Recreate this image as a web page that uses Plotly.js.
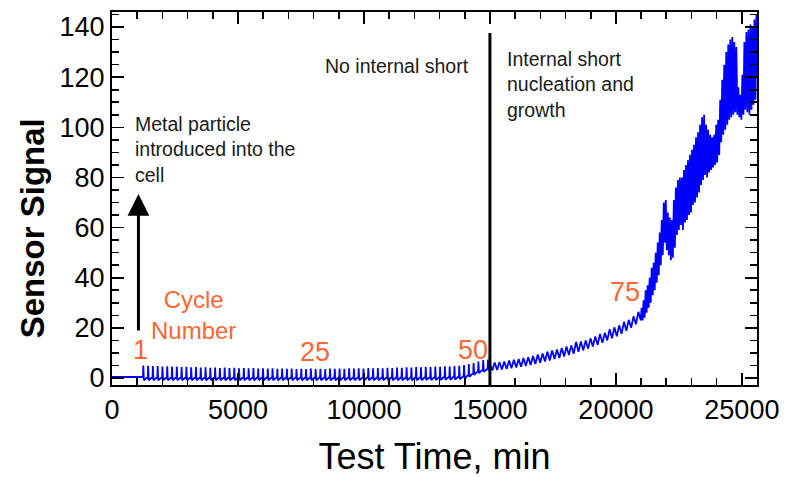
<!DOCTYPE html>
<html>
<head>
<meta charset="utf-8">
<script src="https://cdn.plot.ly/plotly-3.0.1.min.js"></script>
<style>html,body{margin:0;padding:0;background:#fff;}#chart{width:792px;height:477px;}</style>
</head>
<body>
<div id="chart"></div>
<script>
// ---- Data ----
// Before cycling: flat signal
const preTime   = [0, 400, 800, 1200];
const preSignal = [0.4, 0.4, 0.3, 0.4];

// Cycling without internal short: comb of small spikes
const cyclingTime = [
  1230,1242,1265, 1420,1432,1455, 1610,1622,1645, 1800,1812,1835, 1990,2002,2025,
  2180,2192,2215, 2370,2382,2405, 2560,2572,2595, 2750,2762,2785, 2940,2952,2975,
  3130,3142,3165, 3320,3332,3355, 3510,3522,3545, 3700,3712,3735, 3890,3902,3925,
  4080,4092,4115, 4270,4282,4305, 4460,4472,4495, 4650,4662,4685, 4840,4852,4875,
  5030,5042,5065, 5220,5232,5255, 5410,5422,5445, 5600,5612,5635, 5790,5802,5825,
  5980,5992,6015, 6170,6182,6205, 6360,6372,6395, 6550,6562,6585, 6740,6752,6775,
  6930,6942,6965, 7120,7132,7155, 7310,7322,7345, 7500,7512,7535, 7690,7702,7725,
  7880,7892,7915, 8070,8082,8105, 8260,8272,8295, 8450,8462,8485, 8640,8652,8675,
  8830,8842,8865, 9020,9032,9055, 9210,9222,9245, 9400,9412,9435, 9590,9602,9625,
  9780,9792,9815, 9970,9982,10005, 10160,10172,10195, 10350,10362,10385, 10540,10552,10575,
  10730,10742,10765, 10920,10932,10955, 11110,11122,11145, 11300,11312,11335, 11490,11502,11525,
  11680,11692,11715, 11870,11882,11905, 12060,12072,12095, 12250,12262,12285, 12440,12452,12475,
  12630,12642,12665, 12820,12832,12855, 13010,13022,13045, 13200,13212,13235, 13390,13402,13425,
  13580,13592,13615, 13770,13782,13805, 13960,13972,13995, 14150,14162,14185, 14340,14352,14375,
  14530,14542,14565, 14720,14732,14755, 14910,14922,14945
];
const cyclingSignal = [
  0.4,5.0,-0.9, 0.4,4.9,-0.9, 0.4,4.8,-0.9, 0.4,4.8,-0.9, 0.4,4.6,-0.9,
  0.4,4.7,-0.9, 0.4,4.5,-0.9, 0.4,4.6,-0.9, 0.4,4.4,-0.9, 0.4,4.5,-0.9,
  0.4,4.3,-0.9, 0.4,4.4,-0.9, 0.4,4.2,-0.9, 0.4,4.3,-0.9, 0.4,4.1,-0.9,
  0.4,4.2,-0.9, 0.4,4.0,-0.9, 0.4,4.2,-0.9, 0.4,4.0,-0.9, 0.4,4.1,-0.9,
  0.4,3.9,-0.9, 0.4,4.0,-0.9, 0.4,3.9,-0.9, 0.4,4.0,-0.9, 0.4,3.8,-0.9,
  0.4,3.9,-0.9, 0.4,3.8,-0.9, 0.4,3.9,-0.9, 0.4,3.7,-0.9, 0.4,3.8,-0.9,
  0.4,3.7,-0.9, 0.4,3.8,-0.9, 0.4,3.6,-0.9, 0.4,3.7,-0.9, 0.4,3.6,-0.9,
  0.4,3.8,-0.9, 0.4,3.6,-0.9, 0.4,3.7,-0.9, 0.4,3.6,-0.9, 0.4,3.8,-0.9,
  0.4,3.7,-0.9, 0.4,3.8,-0.9, 0.4,3.7,-0.9, 0.4,3.9,-0.9, 0.4,3.8,-0.9,
  0.4,3.9,-0.9, 0.4,3.8,-0.9, 0.4,4.0,-0.9, 0.4,3.9,-0.9, 0.4,4.0,-0.9,
  0.4,3.9,-0.9, 0.4,4.1,-0.9, 0.4,4.0,-0.9, 0.4,4.2,-0.9, 0.4,4.1,-0.9,
  0.4,4.3,-0.9, 0.4,4.2,-0.9, 0.4,4.4,-0.9, 0.4,4.3,-0.9, 0.5,4.5,-0.8,
  0.5,4.4,-0.8, 0.5,4.6,-0.8, 0.5,4.5,-0.8, 0.6,4.7,-0.7, 0.6,4.6,-0.7,
  0.7,4.8,-0.6, 0.7,4.9,-0.5, 0.9,5.2,-0.2, 1.3,5.6,0.4, 2.0,6.0,1.2,
  2.8,6.6,1.9, 3.4,7.2,2.5, 3.8,7.4,3.0
];

// Internal short onset: slowly rising, oscillating
const onsetTime = [
  15000,15095,15190,15285,15380,15475,15570,15665,15760,15855,
  15950,16045,16140,16235,16330,16425,16520,16615,16710,16805,
  16900,16995,17090,17185,17280,17375,17470,17565,17660,17755,
  17850,17945,18040,18135,18230,18325,18420,18515,18610,18705,
  18800,18895,18990,19085,19180,19275,19370,19465,19560,19655,
  19750,19845,19940,20035,20130,20225,20320,20415,20510,20605,
  20700,20795,20890,20985
];
const onsetSignal = [
  5.8,3.0,6.2,3.2,6.4,3.4,6.6,3.6,7.0,3.9,
  7.3,4.2,7.6,4.5,8.0,4.8,8.3,5.2,8.8,5.6,
  9.4,6.1,9.8,6.6,10.5,7.0,11.0,7.6,11.4,8.0,
  12.0,8.6,12.6,9.2,13.0,9.7,14.4,10.4,14.6,11.0,
  15.0,11.7,15.8,12.5,16.6,13.2,17.6,14.0,18.0,15.0,
  19.4,15.8,20.2,16.6,21.0,17.6,22.4,18.8,23.2,20.0,
  24.6,21.4,26.4,23.0
];

// Internal short growth: steep, noisy rise
const growthTime = [
  21020,21060,21100,21140,21180,21220,21260,21300,21340,21380,
  21420,21460,21500,21540,21580,21620,21660,21700,21740,21780,
  21820,21860,21900,21940,21980,22020,22060,22100,22140,22180,
  22220,22260,22300,22340,22380,22420,22460,22500,22540,22580,
  22620,22660,22700,22740,22780,22820,22860,22900,22940,22980,
  23020,23060,23100,23140,23180,23220,23260,23300,23340,23380,
  23420,23460,23500,23540,23580,23620,23660,23700,23740,23780,
  23820,23860,23900,23940,23980,24020,24060,24100,24140,24180,
  24220,24260,24300,24340,24380,24420,24460,24500,24540,24580,
  24620,24660,24700,24740,24780,24820,24860,24900,24940,24980,
  25020,25060,25100,25140,25180,25220,25260,25300,25340,25380,
  25420,25460,25500,25540,25580,25600
];
const growthSignal = [
  28,23,31,24,35,26,37,28,40,30,
  44,33,46,35,50,38,54,41,58,45,
  63,49,70,54,71,51,66,49,64,47,
  63,48,71,52,76,57,79,59,80,61,
  80,59,83,62,85,63,87,65,89,66,
  91,69,93,70,96,72,98,74,101,77,
  104,79,105,81,101,80,99,82,97,83,
  96,84,97,85,101,86,103,89,111,94,
  119,97,125,99,130,101,133,103,135,104,
  136,105,134,106,132,105,116,104,113,103,
  121,105,134,107,138,106,139,105,141,107,
  140,109,143,111,145,120
];

// Axis ticks
const xTickVals = [0, 5000, 10000, 15000, 20000, 25000];
const xTickText = ['0', '5000', '10000', '15000', '20000', '25000'];
const yTickVals = [0, 20, 40, 60, 80, 100, 120, 140];

// Annotation positions (data units)
const shortOnsetTime = 15000;
const shortLineTop = 137.6;
const particleTime = 1050;
const arrowTail = 18.3;
const arrowTip = 73.4;

const cycleLabels = ['1', '25', '50', '75'];
const cycleLabelTime = [1150, 8055, 14325, 20357];
const cycleLabelSignal = [11.2, 10.4, 11.2, 34.3];

// ---- Build ----
const timeMin = preTime.concat(cyclingTime, onsetTime, growthTime);
const sensorSignal = preSignal.concat(cyclingSignal, onsetSignal, growthSignal);

const FONT = 'Arial, "Liberation Sans", sans-serif';
const ORANGE = '#ff6633';
const DARK = '#1a1a1a';
const yRange = [-2.8, 146];

const trace = {
  x: timeMin, y: sensorSignal, type: 'scatter', mode: 'lines',
  line: {color: '#0000ff', width: 1.8},
  hoverinfo: 'skip'
};

const annotations = [
  {x: 833, y: 106.5, xref: 'x', yref: 'y', xanchor: 'left', yanchor: 'top', align: 'left',
   text: 'Metal particle<br>introduced into the<br>cell', showarrow: false,
   font: {family: FONT, size: 19.5, color: DARK}},
  {x: 8373, y: 124.5, xref: 'x', yref: 'y', xanchor: 'left', yanchor: 'middle',
   text: 'No internal short', showarrow: false,
   font: {family: FONT, size: 19.5, color: DARK}},
  {x: 15595, y: 117, xref: 'x', yref: 'y', xanchor: 'left', yanchor: 'middle', align: 'left',
   text: 'Internal short<br>nucleation and<br>growth', showarrow: false,
   font: {family: FONT, size: 19.5, color: DARK}},
  {x: 3254, y: 25.2, xref: 'x', yref: 'y', xanchor: 'center', yanchor: 'middle', align: 'center',
   text: 'Cycle<br>Number', showarrow: false,
   font: {family: FONT, size: 24, color: ORANGE}},
  {x: particleTime, y: arrowTip, ax: particleTime, ay: arrowTail,
   xref: 'x', yref: 'y', axref: 'x', ayref: 'y', text: '', showarrow: true,
   arrowhead: 2, arrowsize: 1.45, arrowwidth: 3, arrowcolor: '#000'},
  // y-axis title (placed as in the reference, slightly below the axis middle)
  {x: -0.122, y: 0.421, xref: 'paper', yref: 'paper', xanchor: 'center', yanchor: 'middle',
   textangle: -90, text: '<b>Sensor Signal</b>', showarrow: false,
   font: {family: FONT, size: 33, color: '#000'}}
];
cycleLabels.forEach((t, i) => {
  annotations.push({x: cycleLabelTime[i], y: cycleLabelSignal[i], xref: 'x', yref: 'y',
    xanchor: 'center', yanchor: 'middle', text: t, showarrow: false,
    font: {family: FONT, size: 27, color: ORANGE}});
});

const axisCommon = {
  ticks: 'inside', ticklen: 12, tickwidth: 1.6, tickcolor: '#000',
  showline: true, linewidth: 2, linecolor: '#000', mirror: 'allticks',
  showgrid: false, zeroline: false,
  tickfont: {family: FONT, size: 27, color: '#000'}
};

const layout = {
  width: 792, height: 477,
  margin: {l: 112, r: 35, t: 12, b: 92},
  paper_bgcolor: '#fff', plot_bgcolor: '#fff',
  showlegend: false,
  font: {family: FONT, color: '#000'},
  xaxis: Object.assign({}, axisCommon, {
    range: [0, 25600], tickmode: 'array', tickvals: xTickVals, ticktext: xTickText,
    minor: {dtick: 1000, tick0: 0, ticks: 'inside', ticklen: 7, tickwidth: 1.6, tickcolor: '#000', showgrid: false},
    title: {text: 'Test Time, min', font: {family: FONT, size: 36, color: '#000'}, standoff: 20}
  }),
  yaxis: Object.assign({}, axisCommon, {
    range: yRange, tickmode: 'array', tickvals: yTickVals,
    minor: {dtick: 5, tick0: 0, ticks: 'inside', ticklen: 7, tickwidth: 1.6, tickcolor: '#000', showgrid: false}
  }),
  shapes: [
    {type: 'line', xref: 'x', yref: 'y', x0: shortOnsetTime, x1: shortOnsetTime,
     y0: yRange[0], y1: shortLineTop, line: {color: '#000', width: 3}}
  ],
  annotations: annotations
};

Plotly.newPlot('chart', [trace], layout, {staticPlot: true, displayModeBar: false});
</script>
</body>
</html>
